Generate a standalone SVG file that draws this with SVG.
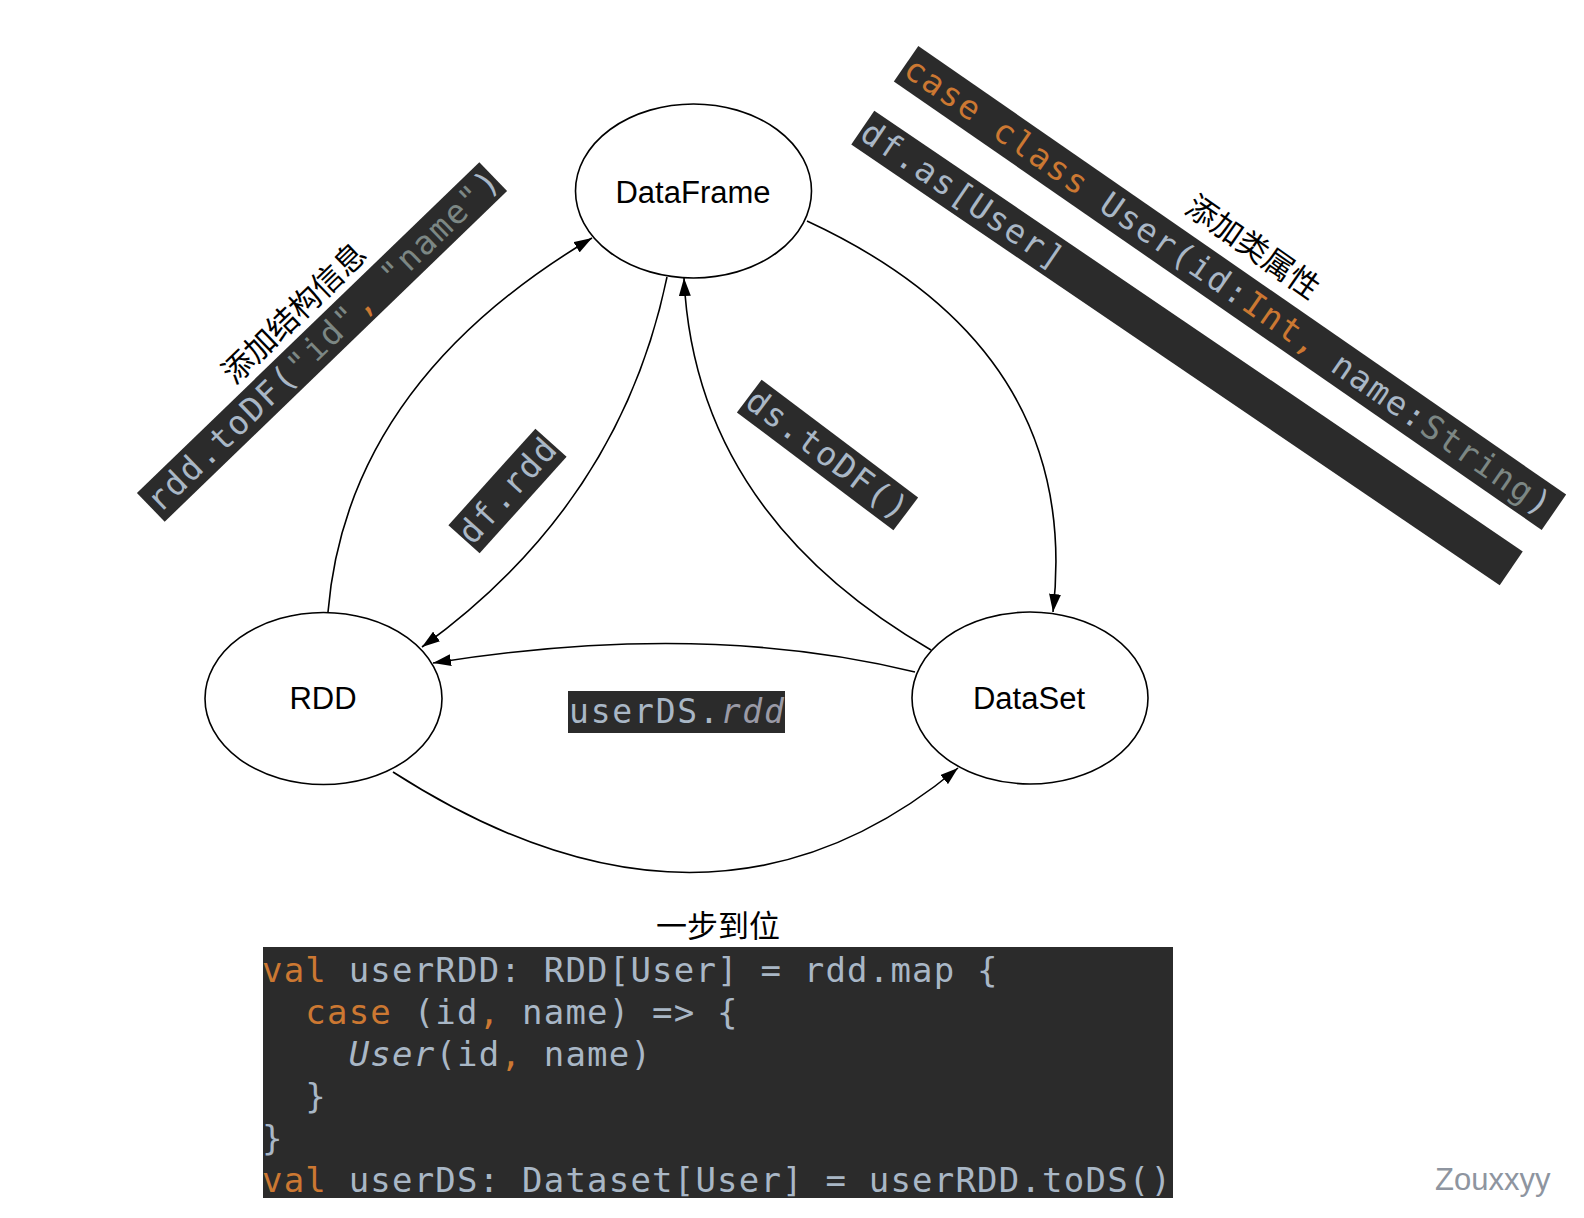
<svg xmlns="http://www.w3.org/2000/svg" width="1584" height="1218" viewBox="0 0 1584 1218">
<style>
.node ellipse{fill:#fff;stroke:#000;stroke-width:1.6}
.lbl{font-family:"Liberation Sans",Arial,sans-serif;font-size:31px;fill:#000;text-anchor:middle}
.cjk{font-family:"Noto Sans CJK SC","Noto Sans CJK JP",sans-serif;font-size:31px;fill:#000}
.code{font-family:"DejaVu Sans Mono","Liberation Mono",monospace;font-size:33px;letter-spacing:1.8px;fill:#a9b7c6}
.big{font-family:"DejaVu Sans Mono","Liberation Mono",monospace;font-size:34px;letter-spacing:1.2px;fill:#a9b7c6}
.bg{fill:#2b2b2b}
.kw{fill:#cc7832}
.str{fill:#7c8784}
.it{font-style:italic}
.conn path{fill:none;stroke:#000;stroke-width:1.6}
</style>
<defs>
<marker id="arr" markerUnits="userSpaceOnUse" viewBox="0 0 18 12" refX="18" refY="6" markerWidth="18" markerHeight="12" orient="auto">
<path d="M0,0 L18,6 L0,12 z" fill="#000"/>
</marker>
</defs>
<rect width="1584" height="1218" fill="#fff"/>

<g id="connectors" class="conn">
<path d="M328,612 Q347,384 592,238" marker-end="url(#arr)"/>
<path d="M667,277 Q620,504 422,647" marker-end="url(#arr)"/>
<path d="M931,650 Q695,513 684,278" marker-end="url(#arr)"/>
<path d="M807,221 Q1083,349 1053,612" marker-end="url(#arr)"/>
<path d="M915,672 Q703,620 433,663" marker-end="url(#arr)"/>
<path d="M393,772 Q709,975 958,768" marker-end="url(#arr)"/>
</g>

<g id="node-dataframe" class="node">
<ellipse cx="693.5" cy="191" rx="118" ry="87"/>
<text class="lbl" x="693" y="203">DataFrame</text>
</g>
<g id="node-rdd" class="node">
<ellipse cx="323.5" cy="698.5" rx="118.5" ry="86"/>
<text class="lbl" x="323" y="709">RDD</text>
</g>
<g id="node-dataset" class="node">
<ellipse cx="1030" cy="698" rx="118" ry="86"/>
<text class="lbl" x="1029" y="709">DataSet</text>
</g>

<g id="label-rdd-todf" transform="translate(322,342) rotate(-44)">
<rect class="bg" x="-238" y="-20" width="476" height="40"/>
<text class="code" x="-236" y="11" xml:space="preserve">rdd.toDF(<tspan class="str">"id"</tspan><tspan class="kw">,</tspan> <tspan class="str">"name"</tspan>)</text>
</g>
<g id="label-cjk-structure" transform="translate(294,313) rotate(-44)">
<text class="cjk" x="0" y="11" text-anchor="middle">添加结构信息</text>
</g>

<g id="label-df-rdd" transform="translate(507.5,491) rotate(-48)">
<rect class="bg" x="-65" y="-21" width="130" height="42"/>
<text class="code" x="-64" y="11">df.rdd</text>
</g>

<g id="label-ds-todf" transform="translate(827.5,455) rotate(37)">
<rect class="bg" x="-98" y="-20.5" width="196" height="41"/>
<text class="code" x="-97" y="11">ds.toDF()</text>
</g>

<g id="label-case-class" transform="translate(1230,288) rotate(34.7)">
<rect class="bg" x="-394" y="-21.5" width="788" height="43"/>
<text class="code" x="-392" y="11" xml:space="preserve"><tspan class="kw">case class</tspan> User(id:<tspan class="kw">Int,</tspan> name:<tspan class="str">String</tspan>)</text>
</g>

<g id="label-df-as" transform="translate(1187,348) rotate(34.2)">
<rect class="bg" x="-392" y="-20.5" width="784" height="41"/>
<text class="code" x="-390" y="11">df.as[User]</text>
</g>

<g id="label-cjk-class" transform="translate(1253,247) rotate(35)">
<text class="cjk" x="0" y="11" text-anchor="middle">添加类属性</text>
</g>

<g id="label-userds-rdd">
<rect class="bg" x="568" y="691" width="217" height="42"/>
<text class="code" x="569" y="723">userDS.<tspan class="it" fill="#9a9aa6">rdd</tspan></text>
</g>

<g id="label-step">
<text class="cjk" x="718" y="937" text-anchor="middle">一步到位</text>
</g>

<g id="code-block">
<rect class="bg" x="263" y="947" width="910" height="251"/>
<text class="big" x="262" y="982" xml:space="preserve"><tspan class="kw">val</tspan> userRDD: RDD[User] = rdd.map {</text>
<text class="big" x="262" y="1024" xml:space="preserve">  <tspan class="kw">case</tspan> (id<tspan class="kw">,</tspan> name) =&gt; {</text>
<text class="big" x="262" y="1066" xml:space="preserve">    <tspan class="it">User</tspan>(id<tspan class="kw">,</tspan> name)</text>
<text class="big" x="262" y="1108" xml:space="preserve">  }</text>
<text class="big" x="262" y="1150" xml:space="preserve">}</text>
<text class="big" x="262" y="1192" xml:space="preserve"><tspan class="kw">val</tspan> userDS: Dataset[User] = userRDD.toDS()</text>
</g>

<g id="watermark">
<text x="1435" y="1190" font-family="Liberation Sans,Arial,sans-serif" font-size="31" fill="#8e95a0">Zouxxyy</text>
</g>
</svg>
